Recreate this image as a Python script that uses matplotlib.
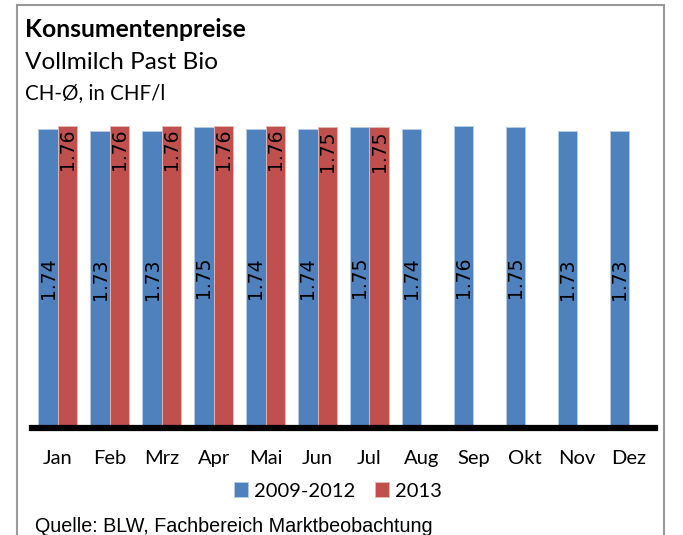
import numpy as np
import matplotlib
matplotlib.use("Agg")
import matplotlib.pyplot as plt
from matplotlib.patches import Rectangle

# Konsumentenpreise Vollmilch Past Bio, CH-Durchschnitt in CHF/l
monate = ["Jan", "Feb", "Mrz", "Apr", "Mai", "Jun", "Jul", "Aug", "Sep", "Okt", "Nov", "Dez"]
preise_2009_2012 = [1.74, 1.73, 1.73, 1.75, 1.74, 1.74, 1.75, 1.74, 1.76, 1.75, 1.73, 1.73]
preise_2013 = [1.76, 1.76, 1.76, 1.76, 1.76, 1.75, 1.75]

blau = "#4F81BD"
rot = "#C0504D"
schrift = ["Lato", "DejaVu Sans"]

W, H = 683, 535
fig = plt.figure(figsize=(W / 100, H / 100), dpi=100)

# Rahmen um das Diagramm
fig.patches.append(Rectangle((17 / W, -0.1), (664 - 17) / W, 1.1 - 5 / H,
                             transform=fig.transFigure, fill=False,
                             edgecolor="#999999", linewidth=1.5))

# Plotbereich
ax = fig.add_axes([32 / W, 1 - 428 / H, (655 - 32) / W, (428 - 88) / H])
x = np.arange(len(monate))
bw = 0.375

b1 = ax.bar(x - bw / 2, preise_2009_2012, width=bw, color=blau,
            edgecolor="#B9CDE5", linewidth=0.6)
x2 = x[:len(preise_2013)]
b2 = ax.bar(x2 + bw / 2, preise_2013, width=bw, color=rot,
            edgecolor="#E6B9B8", linewidth=0.6)

for rect, v in zip(b1, preise_2009_2012):
    ax.text(rect.get_x() + rect.get_width() / 2, v / 2, f"{v:.2f}",
            rotation=90, ha="center", va="center", fontsize=13.5,
            family=["DejaVu Sans"])
for rect, v in zip(b2, preise_2013):
    ax.text(rect.get_x() + rect.get_width() / 2, v - 0.015, f"{v:.2f}",
            rotation=90, ha="center", va="top", fontsize=13.5,
            family=["DejaVu Sans"])

ax.set_xlim(-0.5, len(monate) - 0.5)
ax.set_ylim(0, 1.98)
ax.set_yticks([])
for s in ["top", "right", "left"]:
    ax.spines[s].set_visible(False)
ax.spines["bottom"].set_linewidth(4.5)
ax.spines["bottom"].set_color("black")
ax.set_xticks(x)
ax.set_xticklabels(monate, family=schrift, fontsize=14.5)
ax.tick_params(axis="x", length=0, pad=16)

# Titel
fig.text(25 / W, 1 - 37 / H, "Konsumentenpreise", family=schrift,
         fontsize=17.8, fontweight="bold", va="baseline")
fig.text(25 / W, 1 - 69 / H, "Vollmilch Past Bio", family=schrift,
         fontsize=17.6, va="baseline")
fig.text(25 / W, 1 - 99 / H, "CH-Ø, in CHF/l", family=schrift,
         fontsize=14.8, va="baseline")

# Legende
leg = fig.legend([b1, b2], ["2009-2012", "2013"], loc="center",
                 bbox_to_anchor=(338 / W, 1 - 491 / H), ncol=2, frameon=False,
                 prop={"family": schrift, "size": 14.5}, handlelength=0.7,
                 handleheight=0.7, handletextpad=0.3, columnspacing=1.0)

# Quelle
fig.text(35 / W, 1 - 532 / H, "Quelle: BLW, Fachbereich Marktbeobachtung",
         family=["Liberation Sans", "DejaVu Sans"], fontsize=14.2,
         va="baseline")

fig.savefig("out.png", dpi=100)
